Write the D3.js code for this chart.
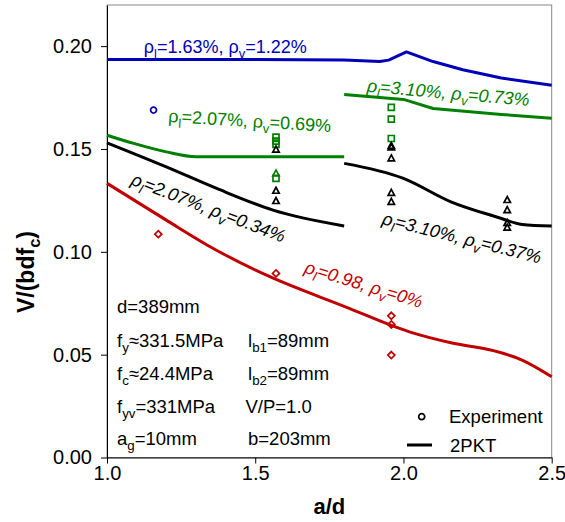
<!DOCTYPE html>
<html>
<head>
<meta charset="utf-8">
<script src="https://cdn.jsdelivr.net/npm/d3@7"></script>
<style>
  body { margin: 0; background: #fff; }
  svg { font-family: "Liberation Sans", Arial, sans-serif; }
</style>
</head>
<body>
<div class="container"></div>
<script>
/* ===== DATA ===== */
var xTicks = [1.0, 1.5, 2.0, 2.5];
var yTicks = [0.00, 0.05, 0.10, 0.15, 0.20];

// 2PKT predictions (a/d, V/(bdfc))
var blueAd   = [1.0, 1.5, 1.8, 1.92, 1.95, 2.01, 2.1, 2.2, 2.33, 2.5];
var blueV    = [0.1935, 0.1935, 0.1933, 0.1925, 0.1932, 0.1972, 0.1925, 0.1885, 0.1845, 0.181];
var green1Ad = [1.0, 1.09, 1.2, 1.3, 1.8];
var green1V  = [0.1567, 0.1527, 0.1486, 0.1462, 0.1462];
var green2Ad = [1.8, 2.0, 2.1, 2.33, 2.5];
var green2V  = [0.1765, 0.1741, 0.1697, 0.1668, 0.1649];
var black1Ad = [1.0, 1.2, 1.37, 1.56, 1.8];
var black1V  = [0.153, 0.1413, 0.1308, 0.1203, 0.1126];
var black2Ad = [1.8, 2.0, 2.16, 2.32, 2.4, 2.5];
var black2V  = [0.143, 0.1357, 0.1243, 0.1167, 0.1133, 0.1125];
var redAd    = [1.0, 1.2, 1.36, 1.54, 1.8, 2.02, 2.16, 2.31, 2.4, 2.5];
var redV     = [0.1333, 0.1154, 0.1015, 0.0885, 0.0735, 0.0611, 0.0558, 0.0517, 0.0474, 0.0393];

// experiments
var expCircleAd = [1.157];
var expCircleV  = [0.1689];
var expSquareAd = [1.57, 1.57, 1.57, 1.57, 1.959, 1.959, 1.959];
var expSquareV  = [0.1558, 0.1538, 0.1522, 0.1357, 0.1702, 0.1645, 0.1551];
var expGreenTriAd = [1.57];
var expGreenTriV  = [0.1381];
var expTriAd = [1.57, 1.57, 1.57, 1.959, 1.959, 1.959, 1.959, 1.959, 2.35, 2.35, 2.35, 2.35];
var expTriV  = [0.1497, 0.1297, 0.1247, 0.1515, 0.1508, 0.1454, 0.1287, 0.1243, 0.1252, 0.1203, 0.1140, 0.1118];
var expDiamondAd = [1.173, 1.57, 1.959, 1.959, 1.959];
var expDiamondV  = [0.1086, 0.0895, 0.0689, 0.0647, 0.0498];

var blue = '#0000b8', green = '#008000', black = '#000000', red = '#c00000';

function zip(a, b) { return a.map(function(d, i) { return [d, b[i]]; }); }

/* ===== SET UP CHART ===== */
var w = 565, h = 522;
var margin = {top: 5, right: 13.3, bottom: 64.5, left: 107};

var svg = d3.select('.container')
  .append('svg')
  .attr('width', w)
  .attr('height', h);

var xScale = d3.scaleLinear().domain([1, 2.5]).range([margin.left, w - margin.right]);
var yScale = d3.scaleLinear().domain([0, 0.22]).range([h - margin.bottom, margin.top]);

// plot frame (top/right grey)
svg.append('rect')
  .attr('x', margin.left).attr('y', margin.top)
  .attr('width', w - margin.right - margin.left)
  .attr('height', h - margin.bottom - margin.top)
  .attr('fill', 'none').attr('stroke', '#888');

var xAxis = d3.axisBottom(xScale).tickValues(xTicks).tickSizeInner(6).tickSizeOuter(0)
  .tickFormat(d3.format('.1f'));
var yAxis = d3.axisLeft(yScale).tickValues(yTicks).tickSizeInner(6).tickSizeOuter(0)
  .tickFormat(d3.format('.2f'));

var gx = svg.append('g')
  .attr('transform', 'translate(0,' + (h - margin.bottom) + ')')
  .call(xAxis);
var gy = svg.append('g')
  .attr('transform', 'translate(' + margin.left + ',0)')
  .call(yAxis);

[gx, gy].forEach(function(g) {
  g.selectAll('text').style('font-size', '20px').attr('fill', '#000')
    .style('font-family', '"Liberation Sans", Arial, sans-serif');
  g.selectAll('line, path').attr('stroke', '#000');
});
gx.selectAll('text').attr('dy', '0.66em');
gy.selectAll('text').attr('x', -15);

/* ===== LINES ===== */
var smooth = d3.line()
  .x(function(d) { return xScale(d[0]); })
  .y(function(d) { return yScale(d[1]); })
  .curve(d3.curveMonotoneX);
var straight = d3.line()
  .x(function(d) { return xScale(d[0]); })
  .y(function(d) { return yScale(d[1]); });

[[blueAd, blueV, blue, straight], [green1Ad, green1V, green, smooth], [green2Ad, green2V, green, straight],
 [black1Ad, black1V, black, smooth], [black2Ad, black2V, black, smooth], [redAd, redV, red, smooth]]
.forEach(function(s) {
  svg.append('path')
    .datum(zip(s[0], s[1]))
    .attr('d', s[3])
    .attr('fill', 'none')
    .attr('stroke', s[2])
    .attr('stroke-width', 3)
    .attr('stroke-linejoin', 'round');
});

/* ===== MARKERS ===== */
var shapes = {
  circle: 'M3,0A3,3 0 1,1 -3,0A3,3 0 1,1 3,0Z',
  square: 'M-3,-3H3V3H-3Z',
  triangle: 'M0,-3.5L3.2,2.5H-3.2Z',
  diamond: 'M0,-3.5L3.5,0L0,3.5L-3.5,0Z'
};

function markers(ad, v, shape, color) {
  svg.append('g').selectAll('path')
    .data(zip(ad, v))
    .enter()
    .append('path')
    .attr('transform', function(d) { return 'translate(' + xScale(d[0]) + ',' + yScale(d[1]) + ')'; })
    .attr('d', shapes[shape])
    .attr('fill', 'none')
    .attr('stroke', color)
    .attr('stroke-width', 1.7);
}
markers(expCircleAd, expCircleV, 'circle', blue);
markers(expSquareAd, expSquareV, 'square', green);
markers(expTriAd, expTriV, 'triangle', black);
markers(expGreenTriAd, expGreenTriV, 'triangle', green);
markers(expDiamondAd, expDiamondV, 'diamond', red);

/* ===== TEXT HELPERS ===== */
// parts: [text, isSub]
function richText(g, parts, size) {
  var t = g.append('text').style('font-size', size + 'px');
  var shift = 0;
  parts.forEach(function(p) {
    var sub = p[1];
    var dy = (sub ? size * 0.28 : 0) - shift;
    shift = sub ? size * 0.28 : 0;
    t.append('tspan')
      .attr('dy', dy)
      .style('font-size', (sub ? size * 0.72 : size) + 'px')
      .text(p[0]);
  });
  return t;
}

function rho(l, v) {
  return [['ρ', 0], ['l', 1], ['=' + l + ', ', 0], ['ρ', 0], ['v', 1], ['=' + v, 0]];
}

/* ===== CURVE LABELS ===== */
var curveLabels = [
  {parts: rho('1.63%', '1.22%'), at: [1.124, 0.1966], angle: 0, color: blue, italic: false},
  {parts: rho('2.07%', '0.69%'), at: [1.206, 0.1631], angle: 3.5, color: green, italic: false},
  {parts: rho('3.10%', '0.73%'), at: [1.875, 0.1778], angle: 5, color: green, italic: true},
  {parts: rho('2.07%', '0.34%'), at: [1.078, 0.1328], angle: 21, color: black, italic: true},
  {parts: rho('3.10%', '0.37%'), at: [1.925, 0.1135], angle: 14, color: black, italic: true},
  {parts: rho('0.98', '0%'),     at: [1.663, 0.0900], angle: 17, color: red, italic: true}
];

curveLabels.forEach(function(c) {
  var g = svg.append('g')
    .attr('transform', 'translate(' + xScale(c.at[0]) + ',' + yScale(c.at[1]) + ') rotate(' + c.angle + ')');
  richText(g, c.parts, 18)
    .attr('fill', c.color)
    .style('font-style', c.italic ? 'italic' : 'normal');
});

/* ===== PARAMETERS ===== */
var params = [
  [117, 312.5, [['d=389mm', 0]]],
  [117, 346.5, [['f', 0], ['y', 1], ['≈331.5MPa', 0]]],
  [117, 379.5, [['f', 0], ['c', 1], ['≈24.4MPa', 0]]],
  [117, 412.5, [['f', 0], ['yv', 1], ['=331MPa', 0]]],
  [117, 445, [['a', 0], ['g', 1], ['=10mm', 0]]],
  [248, 346.5, [['l', 0], ['b1', 1], ['=89mm', 0]]],
  [248, 379.5, [['l', 0], ['b2', 1], ['=89mm', 0]]],
  [245.5, 412.5, [['V/P=1.0', 0]]],
  [248, 445, [['b=203mm', 0]]]
];
params.forEach(function(p) {
  var g = svg.append('g').attr('transform', 'translate(' + p[0] + ',' + p[1] + ')');
  richText(g, p[2], 18.5).attr('fill', '#000');
});

/* ===== LEGEND ===== */
svg.append('path')
  .attr('transform', 'translate(421.7,416.7)')
  .attr('d', shapes.circle)
  .attr('fill', 'none').attr('stroke', '#000').attr('stroke-width', 1.7);
svg.append('text').attr('x', 449).attr('y', 423).style('font-size', '18.5px').text('Experiment');
svg.append('line')
  .attr('x1', 407).attr('x2', 432).attr('y1', 445).attr('y2', 445)
  .attr('stroke', '#000').attr('stroke-width', 3);
svg.append('text').attr('x', 450).attr('y', 451.5).style('font-size', '18.5px').text('2PKT');

/* ===== AXIS TITLES ===== */
svg.append('text')
  .attr('x', xScale(1.75)).attr('y', 514)
  .attr('text-anchor', 'middle')
  .style('font-size', '22px').style('font-weight', 'bold')
  .text('a/d');

var yt = svg.append('g').attr('transform', 'translate(34,272) rotate(-90)');
richText(yt, [['V/(bdf', 0], ['c', 1], [')', 0]], 23)
  .attr('text-anchor', 'middle')
  .style('font-weight', 'bold');
</script>
</body>
</html>
